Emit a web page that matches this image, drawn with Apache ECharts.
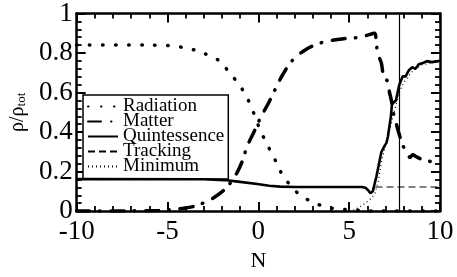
<!DOCTYPE html>
<html>
<head>
<meta charset="utf-8">
<script src="https://cdn.jsdelivr.net/npm/echarts@6/dist/echarts.min.js"></script>
<style>html,body{margin:0;padding:0;background:#fff}#c{width:457px;height:277px}</style>
</head>
<body>
<div id="c"></div>
<script>
var xTicks = [-10, -5, 0, 5, 10];
var yTicks = [0, 0.2, 0.4, 0.6, 0.8, 1];
var transitionN = 7.75;

var radiation = [[-10,0.84],[-6,0.84],[-5,0.838],[-4.2,0.829],[-3.5,0.815],[-2.9,0.795],[-2.2,0.764],[-1.8,0.725],[-1.4,0.68],[-1.0,0.633],[-0.6,0.57],[-0.25,0.495],[0.1,0.41],[0.45,0.345],[0.72,0.294],[0.98,0.249],[1.22,0.201],[1.55,0.155],[1.95,0.11],[2.42,0.074],[3.0,0.045],[3.68,0.022],[4.34,0.011],[5.06,0.006],[5.7,0.003],[6.5,0.0],[10,0.0]];
var matter = [[-10,0.0],[-5.5,0.003],[-4.5,0.01],[-3.5,0.025],[-2.56,0.062],[-1.77,0.117],[-1.2,0.19],[-0.87,0.255],[-0.62,0.327],[-0.24,0.4],[0.13,0.475],[0.57,0.548],[1.0,0.63],[1.37,0.695],[1.85,0.76],[2.6,0.817],[3.5,0.853],[4.6,0.871],[5.6,0.88],[5.96,0.889],[6.4,0.9],[6.5,0.84],[6.6,0.79],[6.77,0.75],[6.86,0.7],[7.0,0.67],[7.13,0.655],[7.2,0.61],[7.34,0.553],[7.45,0.49],[7.6,0.44],[7.75,0.39],[7.97,0.33],[8.2,0.29],[8.35,0.272],[8.5,0.285],[8.7,0.275],[9.0,0.262],[9.7,0.247],[10,0.245]];
var quintessence = [[-10,0.162],[-3,0.161],[-1.86,0.157],[-1,0.148],[-0.06,0.137],[0.6,0.128],[1.2,0.124],[2,0.122],[5.7,0.122],[5.9,0.118],[6.05,0.105],[6.17,0.09],[6.3,0.1],[6.5,0.175],[6.77,0.298],[6.94,0.329],[7.05,0.345],[7.13,0.375],[7.3,0.482],[7.36,0.544],[7.45,0.55],[7.57,0.559],[7.75,0.636],[7.94,0.682],[8.11,0.682],[8.29,0.713],[8.47,0.728],[8.65,0.72],[8.83,0.743],[9.1,0.751],[9.28,0.759],[9.55,0.754],[9.91,0.759],[10,0.76]];
var tracking = [[6.45,0.122],[10,0.122]];
var minimum = [[5.0,0.002],[5.3,0.006],[5.8,0.035],[6.1,0.055],[6.4,0.085],[6.6,0.15],[6.8,0.26],[7.0,0.33],[7.2,0.4],[7.5,0.51],[7.75,0.6],[8.0,0.65],[8.5,0.71],[9.0,0.74],[10,0.76]];

var serif = 'Liberation Serif, Times New Roman, serif';
var chart = echarts.init(document.getElementById('c'), null, {renderer: 'canvas'});

function axisCommon(showLabel) {
  return {
    axisLine: {show: true, onZero: false, lineStyle: {color: '#000', width: 2.5}},
    axisTick: {show: true, inside: true, length: 9, lineStyle: {color: '#000', width: 2}},
    minorTick: {show: true, splitNumber: 5, length: 5, lineStyle: {color: '#000', width: 1.8}},
    splitLine: {show: false},
    axisLabel: {show: showLabel, color: '#000', fontFamily: serif, fontSize: 27}
  };
}

var xb = Object.assign({type: 'value', min: -10, max: 10, interval: 5, position: 'bottom',
  name: 'N', nameLocation: 'middle', nameGap: 32,
  nameTextStyle: {color: '#000', fontFamily: serif, fontSize: 22, verticalAlign: 'top'}}, axisCommon(true));
xb.axisLabel.margin = 7;
var xt = Object.assign({type: 'value', min: -10, max: 10, interval: 5, position: 'top'}, axisCommon(false));
var yl = Object.assign({type: 'value', min: 0, max: 1, interval: 0.2, position: 'left',
  name: '{a|ρ/ρ}{b|tot}', nameLocation: 'middle', nameGap: 45, nameRotate: 90,
  nameTextStyle: {color: '#000', fontFamily: serif, rich: {
    a: {fontFamily: serif, fontSize: 20, color: '#000'},
    b: {fontFamily: serif, fontSize: 13, color: '#000', verticalAlign: 'bottom', padding: [7,0,0,0]}
  }}}, axisCommon(true));
yl.axisLabel.margin = 4;
var yr = Object.assign({type: 'value', min: 0, max: 1, interval: 0.2, position: 'right'}, axisCommon(false));

chart.setOption({
  animation: false,
  backgroundColor: '#fff',
  grid: {left: 69, right: 17, top: 11, bottom: 49, containLabel: false},
  xAxis: [xb, xt],
  yAxis: [yl, yr],
  legend: {
    orient: 'vertical', left: 83, top: 95,
    backgroundColor: '#fff',
    borderColor: '#000', borderWidth: 1.5, borderRadius: 0,
    padding: [2, 4, 3, 4],
    itemWidth: 30, itemHeight: 10, itemGap: -4,
    itemStyle: {color: 'rgba(0,0,0,0)', borderWidth: 0, opacity: 0},
    textStyle: {color: '#000', fontFamily: serif, fontSize: 19},
    data: ['Radiation', 'Matter', 'Quintessence', 'Tracking', 'Minimum']
  },
  series: [
    {name: 'Radiation', type: 'line', data: radiation, symbol: 'none', smooth: 0.3, z: 3,
     lineStyle: {color: '#000', width: 3.5, type: [0.5, 12.5], cap: 'round'}, itemStyle: {color: '#000'}},
    {name: 'Matter', type: 'line', data: matter, symbol: 'none', smooth: 0.3, z: 3,
     lineStyle: {color: '#000', width: 3.5, type: [13, 10, 0.5, 11], cap: 'round'}, itemStyle: {color: '#000'}},
    {name: 'Quintessence', type: 'line', data: quintessence, symbol: 'none', z: 4,
     lineStyle: {color: '#000', width: 2.6, type: 'solid'}, itemStyle: {color: '#000'}},
    {name: 'Tracking', type: 'line', data: tracking, symbol: 'none', z: 2,
     lineStyle: {color: '#000', width: 1.2, type: [7, 4]}, itemStyle: {color: '#000'},
     markLine: {silent: true, symbol: ['none', 'none'], label: {show: false},
       lineStyle: {color: '#000', width: 1.2, type: 'solid'}, data: [{xAxis: transitionN}]}},
    {name: 'Minimum', type: 'line', data: minimum, symbol: 'none', z: 2,
     lineStyle: {color: '#000', width: 1.2, type: [1, 3]}, itemStyle: {color: '#000'}}
  ]
});
</script>
</body>
</html>
